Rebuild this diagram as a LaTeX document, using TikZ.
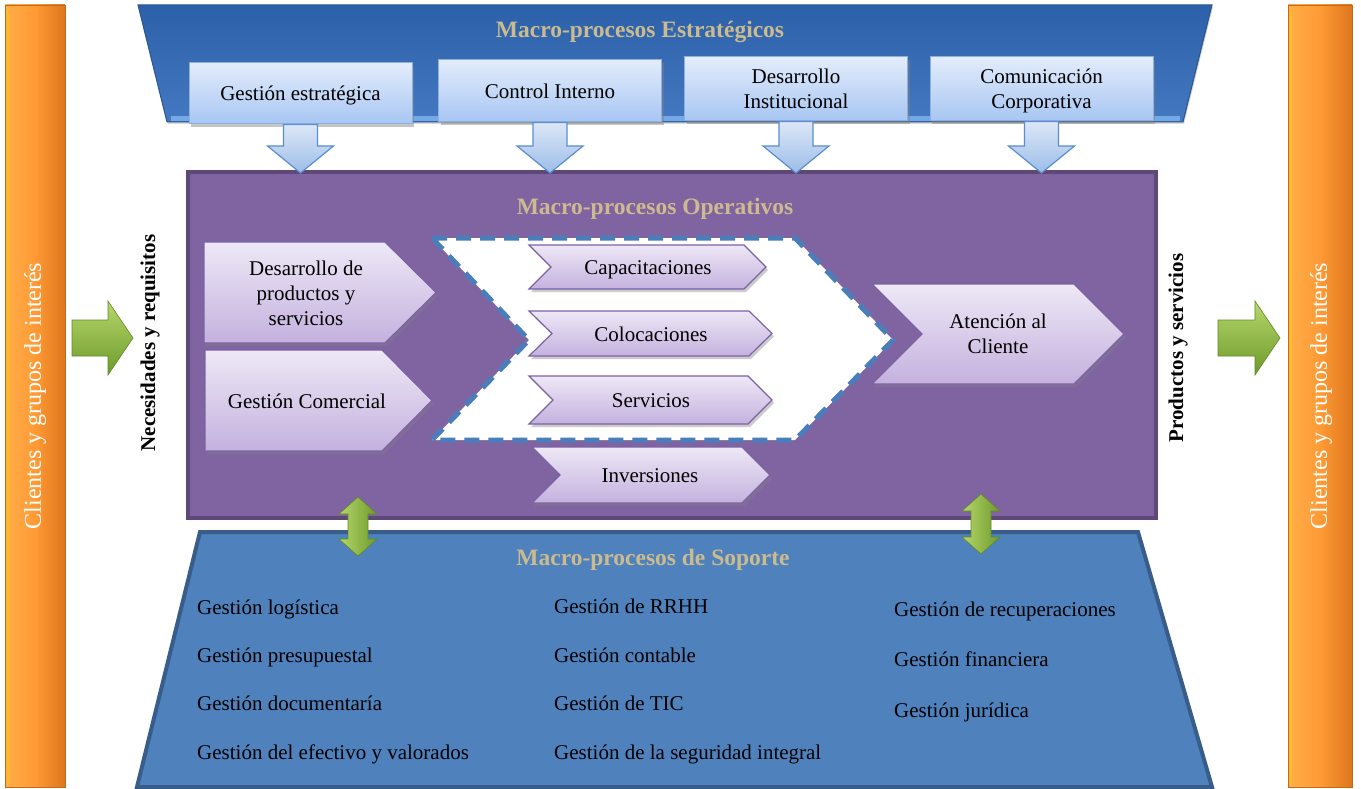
\documentclass[tikz,border=0pt]{standalone}
\usepackage{fontspec}
\setmainfont{Liberation Serif}
\usetikzlibrary{shadows,calc}

\definecolor{stratTop}{HTML}{2C60A8}
\definecolor{stratBot}{HTML}{4479C2}
\definecolor{stratEdge}{HTML}{2A568F}
\definecolor{stratGlow}{HTML}{7DB2EE}
\definecolor{boxTop}{HTML}{E3ECFB}
\definecolor{boxBot}{HTML}{A7C6F3}
\definecolor{boxEdge}{HTML}{8EB0DE}
\definecolor{opsFill}{HTML}{8064A2}
\definecolor{opsEdge}{HTML}{5E4878}
\definecolor{tanText}{HTML}{CBBB8E}
\definecolor{chevTop}{HTML}{EEE8F6}
\definecolor{chevBot}{HTML}{C4B1DE}
\definecolor{chevEdge}{HTML}{7C62A4}
\definecolor{dashBlue}{HTML}{4A7EBB}
\definecolor{supFill}{HTML}{4F81BD}
\definecolor{supEdge}{HTML}{385D8A}
\definecolor{orgLight}{HTML}{FFAE4A}
\definecolor{orgMid}{HTML}{FF9A35}
\definecolor{orgDark}{HTML}{DD761D}
\definecolor{orgEdge}{HTML}{C06A1C}
\definecolor{grnLight}{HTML}{B6D66C}
\definecolor{grnDark}{HTML}{6E9A2A}
\definecolor{grnEdge}{HTML}{5F8A25}
\definecolor{arrTop}{HTML}{DCE7F7}
\definecolor{arrBot}{HTML}{9CBDE8}
\definecolor{arrEdge}{HTML}{5B8ED0}

% purple process chevron without notch
\newcommand\homeplate[5]{%
  \path[chevfill] (#1,#2) -- ({#3-#5},#2) -- (#3,{(#2+#4)/2}) -- ({#3-#5},#4) -- (#1,#4) -- cycle;}
% purple process chevron with notch
\newcommand\notched[5]{%
  \path[chevfill] (#1,#2) -- ({#3-#5},#2) -- (#3,{(#2+#4)/2}) -- ({#3-#5},#4) -- (#1,#4) -- ({#1+#5},{(#2+#4)/2}) -- cycle;}
% green block arrow pointing right
\newcommand\rightblock[3]{%
  \path[grnarrow] (#1,{#3-18}) -- ({#2-25},{#3-18}) -- ({#2-25},{#3-37}) -- (#2,#3) -- ({#2-25},{#3+37}) -- ({#2-25},{#3+18}) -- (#1,{#3+18}) -- cycle;}
% green two-headed vertical arrow
\newcommand\updown[3]{%
  \path[grnarrowv] (#1,#2) -- ({#1+19},{#2+17}) -- ({#1+10},{#2+17}) -- ({#1+10},{#3-17}) -- ({#1+19},{#3-17}) -- (#1,#3) -- ({#1-19},{#3-17}) -- ({#1-10},{#3-17}) -- ({#1-10},{#2+17}) -- ({#1-19},{#2+17}) -- cycle;}
% light blue block arrow from a strategic box down to the operative frame
\newcommand\dnblock[1]{%
  \path[blockarrow] ($(#1.south)+(-17,0)$) -- ($(#1.south)+(17,0)$)
    -- ($(#1.south |- ops.north)+(17,-24)$) -- ($(#1.south |- ops.north)+(33,-24)$)
    -- ($(#1.south |- ops.north)+(0,3)$)
    -- ($(#1.south |- ops.north)+(-33,-24)$) -- ($(#1.south |- ops.north)+(-17,-24)$) -- cycle;}

\begin{document}
\begin{tikzpicture}[x=1pt,y=-1pt,
  txt/.style={font=\fontsize{21}{25}\selectfont, text=black, inner sep=0pt, text depth=0pt},
  title/.style={font=\bfseries\fontsize{23.5}{28}\selectfont, text=tanText, inner sep=0pt},
  sidelbl/.style={font=\fontsize{24}{28}\selectfont, text=white, rotate=90, inner sep=0pt},
  flowlbl/.style={font=\bfseries\fontsize{21}{25}\selectfont, rotate=90, inner sep=0pt},
  stratbox/.style={draw=boxEdge, line width=1pt, top color=boxTop, bottom color=boxBot,
    drop shadow={opacity=.45, shadow xshift=2pt, shadow yshift=-3pt},
    align=center, font=\fontsize{21}{25}\selectfont, inner sep=0pt, text depth=0pt,
    minimum width=223pt},
  chevfill/.style={draw=chevEdge, line width=1.2pt, top color=chevTop, bottom color=chevBot,
    drop shadow={opacity=.4, shadow xshift=2pt, shadow yshift=-3pt}},
  chevtxt/.style={font=\fontsize{21}{25}\selectfont, align=center, inner sep=0pt, text depth=0pt},
  grnarrow/.style={draw=grnEdge, line width=.6pt, top color=grnLight, bottom color=grnDark},
  grnarrowv/.style={draw=grnEdge, line width=.6pt, left color=grnLight, right color=grnDark},
  blockarrow/.style={draw=arrEdge, line width=1.2pt, top color=arrTop, bottom color=arrBot},
  orangebar/.style={draw=orgEdge, line width=.8pt, left color=orgLight, right color=orgDark, middle color=orgMid}
]
\useasboundingbox (0,0) rectangle (1361,789);
\fill[white] (0,0) rectangle (1361,789);

% ---- side bars: clients and stakeholders
\path[orangebar] (5,5) rectangle (65,787);
\draw[yellow!60!orange, line width=2pt, opacity=.7] (8,9) -- (8,783);
\path[orangebar] (1288,5) rectangle (1352,787);
\draw[yellow!60!orange, line width=2pt, opacity=.7] (1291,9) -- (1291,783);
\node[sidelbl] (cliL) at (35,396) {Clientes y grupos de interés};
\node[sidelbl] (cliR) at (1321,396) {Clientes y grupos de interés};

\rightblock{72}{133}{338}
\rightblock{1218}{1280}{338}
\node[flowlbl] (nec) at (150,343) {Necesidades y requisitos};
\node[flowlbl] (prod) at (1178,348) {Productos y servicios};

% ---- strategic processes
\path[top color=stratTop, bottom color=stratBot, draw=stratEdge, line width=1pt,
  drop shadow={opacity=.3, shadow xshift=1pt, shadow yshift=-2pt}]
  (138,5) -- (1212,5) -- (1183,122) -- (167,122) -- cycle;
\draw[stratGlow, line width=5pt, opacity=.85] (171,118.5) -- (1180,118.5);
\node[title] (stratT) at (640,32) {Macro-procesos Estratégicos};

\node[stratbox, minimum height=61pt] (ge) at (300.5,93.5) {Gestión estratégica};
\node[stratbox, minimum height=62pt] (ci) at (550,91) {Control Interno};
\node[stratbox, minimum height=64pt] (di) at (796,89) {Desarrollo\\Institucional};
\node[stratbox, minimum height=64pt] (cc) at (1041.5,89) {Comunicación\\Corporativa};

% ---- operative processes
\node[draw=opsEdge, line width=4pt, fill=opsFill, minimum width=968pt, minimum height=346pt, inner sep=0pt] (ops) at (672,345) {};
\node[title] (opsT) at (655,209) {Macro-procesos Operativos};

\dnblock{ge}
\dnblock{ci}
\dnblock{di}
\dnblock{cc}

% white chevron grouping the core products
\draw[dashBlue, line width=5pt, dash pattern=on 15pt off 9pt, fill=white]
  (432,238) -- (795,238) -- (893,340) -- (795,440) -- (432,440) -- (529,340) -- cycle;

\homeplate{204}{242}{436}{343}{51}
\node[chevtxt] (dps) at (306,293) {Desarrollo de\\productos y\\servicios};
\homeplate{205}{350}{432}{451}{50}
\node[chevtxt] (gc) at (307,401) {Gestión Comercial};

\notched{529}{245}{766}{289}{22}
\node[chevtxt] (cap) at (648,268) {Capacitaciones};
\notched{529}{311}{772}{356}{23}
\node[chevtxt] (col) at (651,334) {Colocaciones};
\notched{529}{376}{772}{424}{24}
\node[chevtxt] (ser) at (651,401) {Servicios};
\notched{532}{447}{770}{503}{28}
\node[chevtxt] (inv) at (650,476) {Inversiones};

\notched{872}{284}{1124}{384}{50}
\node[chevtxt] (aten) at (998,334) {Atención al\\Cliente};

% ---- support processes
\path[fill=supFill, draw=supEdge, line width=4pt]
  (200,532) -- (1138,532) -- (1212,787) -- (137,787) -- cycle;
\node[title] (supT) at (653,560) {Macro-procesos de Soporte};

\updown{358}{497}{556}
\updown{981}{494}{554}

\node[txt, anchor=west] (s1) at (197,607) {Gestión logística};
\node[txt, anchor=west] (s2) at (197,655) {Gestión presupuestal};
\node[txt, anchor=west] (s3) at (197,703) {Gestión documentaría};
\node[txt, anchor=west] (s4) at (197,752) {Gestión del efectivo y valorados};
\node[txt, anchor=west] (s5) at (554,606) {Gestión de RRHH};
\node[txt, anchor=west] (s6) at (554,655) {Gestión contable};
\node[txt, anchor=west] (s7) at (554,703) {Gestión de TIC};
\node[txt, anchor=west] (s8) at (554,752) {Gestión de la seguridad integral};
\node[txt, anchor=west] (s9) at (894,609) {Gestión de recuperaciones};
\node[txt, anchor=west] (s10) at (894,659) {Gestión financiera};
\node[txt, anchor=west] (s11) at (894,710) {Gestión jurídica};
\end{tikzpicture}
\end{document}
